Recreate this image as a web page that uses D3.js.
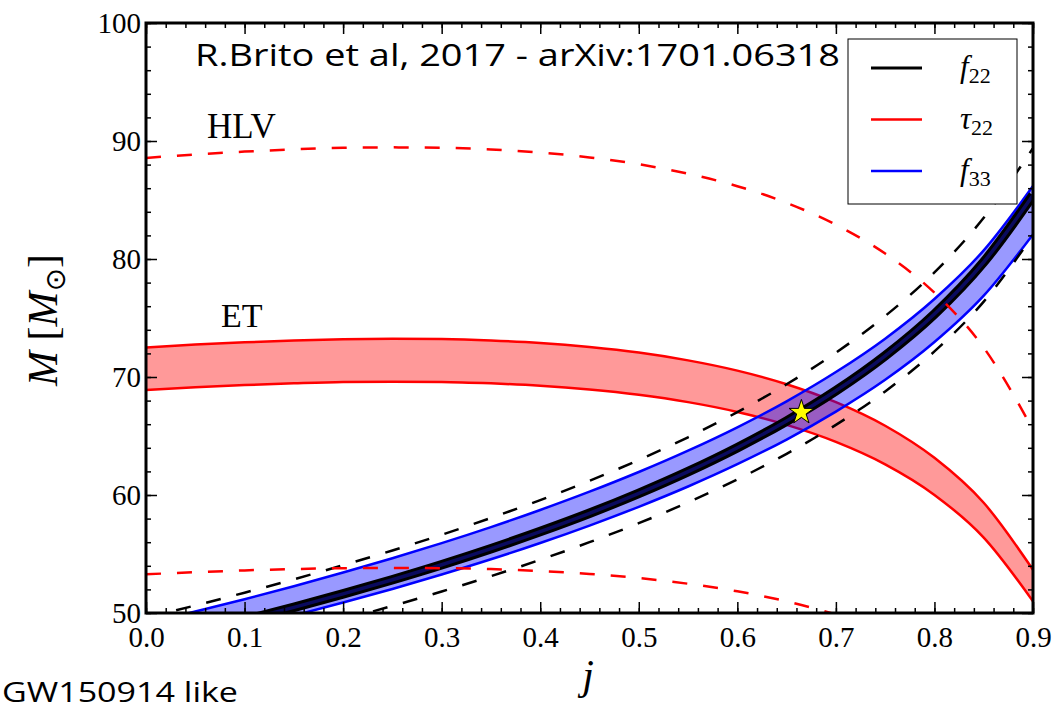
<!DOCTYPE html>
<html>
<head>
<meta charset="utf-8">
<script src="https://cdn.jsdelivr.net/npm/d3@7"></script>
<style>
  body { margin: 0; background: #fff; }
  svg { display: block; }
</style>
</head>
<body>
<svg id="chart" width="1054" height="711"></svg>
<script>

// ---- data ----
const xTicks = [ 0, 0.1, 0.2, 0.3, 0.4, 0.5, 0.6, 0.7, 0.8, 0.9 ];
const yTicks = [ 50, 60, 70, 80, 90, 100 ];
const jGrid = [ 0, 0.05, 0.1, 0.15, 0.2, 0.25, 0.3, 0.35, 0.4, 0.45, 0.5, 0.55, 0.6, 0.65, 0.7, 0.75, 0.8, 0.85, 0.9 ];

// tau_22, HLV (dashed red)
const tauHLVUpper = [ 88.56, 88.86, 89.10, 89.29, 89.42, 89.46, 89.43, 89.29, 89.02, 88.61, 88.03, 87.23, 86.17, 84.76, 82.90, 80.46, 77.14, 72.49, 65.54 ];
const tauHLVLower = [ 53.28, 53.46, 53.61, 53.72, 53.80, 53.82, 53.80, 53.72, 53.56, 53.31, 52.96, 52.48, 51.84, 50.99, 49.88 ];

// tau_22, ET (red band)
const tauETUpper = [ 72.50, 72.75, 72.94, 73.09, 73.20, 73.24, 73.21, 73.09, 72.88, 72.54, 72.07, 71.41, 70.54, 69.39, 67.87, 65.87, 63.15, 59.34, 53.66 ];
const tauETLower = [ 68.90, 69.13, 69.32, 69.46, 69.57, 69.60, 69.58, 69.46, 69.26, 68.94, 68.49, 67.87, 67.04, 65.94, 64.50, 62.60, 60.01, 56.39, 50.99 ];

// f_33, ET (blue band)
const f33Upper = [ 49.12, 50.12, 51.17, 52.27, 53.43, 54.64, 55.92, 57.28, 58.73, 60.28, 61.95, 63.76, 65.74, 67.94, 70.42, 73.25, 76.61, 80.73, 86.18 ];
const f33Lower = [ 46.78, 47.73, 48.73, 49.78, 50.89, 52.04, 53.26, 54.55, 55.93, 57.41, 59.00, 60.72, 62.61, 64.70, 67.07, 69.76, 72.96, 76.89, 82.08 ];

// f_22, ET (thick black), from j = 0.1
const f22ET = [ 49.40, 50.48, 51.62, 52.82, 54.09, 55.45, 56.90, 58.45, 60.14, 61.98, 64.01, 66.27, 68.83, 71.80, 75.33, 79.74, 85.40 ];

// f_22, HLV (dashed black)
const f22HLVUpper = [ 49.62, 50.64, 51.72, 52.85, 54.05, 55.30, 56.63, 58.06, 59.57, 61.20, 62.97, 64.89, 67.02, 69.39, 72.06, 75.17, 78.87, 83.49, 89.40 ];
const f22HLVLower = [ 49.45, 50.60, 51.82, 53.12, 54.51, 56.00, 57.61, 59.38, 61.32, 63.49, 65.94, 68.78, 72.17, 76.39, 82.00 ]; // from j = 0.2

const starPoint = [ 0.665, 67.0 ];

const legendNames = [ [ "f", "22" ], [ "τ", "22" ], [ "f", "33" ] ];
const legendColors = [ "#000000", "#ff0000", "#0000ff" ];

// ---- chart ----
const plotLeft = 146, plotRight = 1033, plotTop = 23, plotBottom = 613;

const svg = d3.select( "#chart" );

const x = d3.scaleLinear().domain( [ 0, 0.9 ] ).range( [ plotLeft, plotRight ] );
const y = d3.scaleLinear().domain( [ 50, 100 ] ).range( [ plotBottom, plotTop ] );

const pairs = ( js, ms ) => js.map( ( j, i ) => [ j, ms[ i ] ] );

const line = d3.line()
  .x( d => x( d[ 0 ] ) )
  .y( d => y( d[ 1 ] ) )
  .curve( d3.curveMonotoneX );

const band = d3.area()
  .x( d => x( d.j ) )
  .y0( d => y( d.lo ) )
  .y1( d => y( d.hi ) )
  .curve( d3.curveMonotoneX );

svg.append( "clipPath" ).attr( "id", "plotclip" )
  .append( "rect" )
    .attr( "x", plotLeft ).attr( "y", plotTop )
    .attr( "width", plotRight - plotLeft ).attr( "height", plotBottom - plotTop );

const plot = svg.append( "g" ).attr( "clip-path", "url(#plotclip)" );

// ET tau band
plot.append( "path" )
  .datum( jGrid.map( ( j, i ) => ( { j: j, lo: tauETLower[ i ], hi: tauETUpper[ i ] } ) ) )
  .attr( "d", band )
  .attr( "fill", "#ff0000" )
  .attr( "fill-opacity", 0.4 );

[ tauETUpper, tauETLower ].forEach( s => {
  plot.append( "path" )
    .datum( pairs( jGrid, s ) )
    .attr( "d", line )
    .attr( "fill", "none" )
    .attr( "stroke", "#ff0000" )
    .attr( "stroke-width", 2.5 );
} );

// f33 band
plot.append( "path" )
  .datum( jGrid.map( ( j, i ) => ( { j: j, lo: f33Lower[ i ], hi: f33Upper[ i ] } ) ) )
  .attr( "d", band )
  .attr( "fill", "#0000ff" )
  .attr( "fill-opacity", 0.4 );

[ f33Upper, f33Lower ].forEach( s => {
  plot.append( "path" )
    .datum( pairs( jGrid, s ) )
    .attr( "d", line )
    .attr( "fill", "none" )
    .attr( "stroke", "#0000ff" )
    .attr( "stroke-width", 2.5 );
} );

// f22 ET (thick black with dark inner)
const f22Data = pairs( jGrid.slice( 2 ), f22ET );
plot.append( "path" )
  .datum( f22Data )
  .attr( "d", line )
  .attr( "fill", "none" )
  .attr( "stroke", "#000000" )
  .attr( "stroke-width", 9.5 );
plot.append( "path" )
  .datum( f22Data )
  .attr( "d", line )
  .attr( "fill", "none" )
  .attr( "stroke", "#0a0a5e" )
  .attr( "stroke-width", 3.5 );

// f22 HLV dashed black
[ pairs( jGrid, f22HLVUpper ), pairs( jGrid.slice( 4 ), f22HLVLower ) ].forEach( s => {
  plot.append( "path" )
    .datum( s )
    .attr( "d", line )
    .attr( "fill", "none" )
    .attr( "stroke", "#000000" )
    .attr( "stroke-width", 2.5 )
    .attr( "stroke-dasharray", "15,16" );
} );

// tau HLV dashed red
[ pairs( jGrid, tauHLVUpper ), pairs( jGrid.slice( 0, tauHLVLower.length ), tauHLVLower ) ].forEach( s => {
  plot.append( "path" )
    .datum( s )
    .attr( "d", line )
    .attr( "fill", "none" )
    .attr( "stroke", "#ff0000" )
    .attr( "stroke-width", 2.5 )
    .attr( "stroke-dasharray", "15,16" );
} );

// star
svg.append( "path" )
  .attr( "d", d3.symbol( d3.symbolStar, 190 )() )
  .attr( "transform", "translate(" + x( starPoint[ 0 ] ) + "," + y( starPoint[ 1 ] ) + ")" )
  .attr( "fill", "#ffff00" )
  .attr( "stroke", "#000000" )
  .attr( "stroke-width", 1 );

// ---- axes ----
const minorX = d3.range( 0, 46 ).map( i => i * 0.02 );
const minorY = d3.range( 0, 26 ).map( i => 50 + i * 2 );

function styleAxis( g ) {
  g.select( ".domain" ).remove();
  g.selectAll( ".tick line" ).attr( "stroke", "#000" ).attr( "stroke-width", 1.5 );
  g.selectAll( ".tick text" ).attr( "fill", "#000" );
  g.attr( "font-family", "'Liberation Serif', 'DejaVu Serif', serif" ).attr( "font-size", 29 );
}

svg.append( "g" ).attr( "transform", "translate(0," + plotBottom + ")" )
  .call( d3.axisBottom( x ).tickValues( minorX ).tickSize( -5 ).tickFormat( "" ) ).call( styleAxis );
svg.append( "g" ).attr( "transform", "translate(0," + plotBottom + ")" )
  .call( d3.axisBottom( x ).tickValues( xTicks ).tickSize( -11 ).tickPadding( 13 ).tickFormat( d3.format( ".1f" ) ) ).call( styleAxis );
svg.append( "g" ).attr( "transform", "translate(0," + plotTop + ")" )
  .call( d3.axisTop( x ).tickValues( minorX ).tickSize( -5 ).tickFormat( "" ) ).call( styleAxis );
svg.append( "g" ).attr( "transform", "translate(0," + plotTop + ")" )
  .call( d3.axisTop( x ).tickValues( xTicks ).tickSize( -11 ).tickFormat( "" ) ).call( styleAxis );

svg.append( "g" ).attr( "transform", "translate(" + plotLeft + ",0)" )
  .call( d3.axisLeft( y ).tickValues( minorY ).tickSize( -5 ).tickFormat( "" ) ).call( styleAxis );
svg.append( "g" ).attr( "transform", "translate(" + plotLeft + ",0)" )
  .call( d3.axisLeft( y ).tickValues( yTicks ).tickSize( -11 ).tickPadding( 5 ).tickFormat( d3.format( "d" ) ) ).call( styleAxis );
svg.append( "g" ).attr( "transform", "translate(" + plotRight + ",0)" )
  .call( d3.axisRight( y ).tickValues( minorY ).tickSize( -5 ).tickFormat( "" ) ).call( styleAxis );
svg.append( "g" ).attr( "transform", "translate(" + plotRight + ",0)" )
  .call( d3.axisRight( y ).tickValues( yTicks ).tickSize( -11 ).tickFormat( "" ) ).call( styleAxis );

// frame
svg.append( "rect" )
  .attr( "x", plotLeft ).attr( "y", plotTop )
  .attr( "width", plotRight - plotLeft ).attr( "height", plotBottom - plotTop )
  .attr( "fill", "none" )
  .attr( "stroke", "#000" )
  .attr( "stroke-width", 3 );

// ---- legend ----
const legend = svg.append( "g" );
legend.append( "rect" )
  .attr( "x", 848 ).attr( "y", 39 )
  .attr( "width", 169 ).attr( "height", 165 )
  .attr( "fill", "#fff" )
  .attr( "stroke", "#000" )
  .attr( "stroke-width", 1 );

legendNames.forEach( ( n, i ) => {
  const ly = 68 + i * 51.5;
  legend.append( "line" )
    .attr( "x1", 871 ).attr( "x2", 922 )
    .attr( "y1", ly ).attr( "y2", ly )
    .attr( "stroke", legendColors[ i ] )
    .attr( "stroke-width", i === 0 ? 3 : 2.5 );
  const t = legend.append( "text" )
    .attr( "x", 960 ).attr( "y", ly + 9 )
    .attr( "font-family", "'Liberation Serif', 'DejaVu Serif', serif" )
    .attr( "font-size", 31 );
  t.append( "tspan" ).attr( "font-style", "italic" ).text( n[ 0 ] );
  t.append( "tspan" ).attr( "font-size", 22 ).attr( "dy", 6 ).text( n[ 1 ] );
} );

// ---- labels ----
svg.append( "text" )
  .attr( "x", 195 ).attr( "y", 66 )
  .attr( "font-family", "'Open Sans', 'Noto Sans', sans-serif" )
  .attr( "font-size", 31 )
  .attr( "textLength", 645 )
  .attr( "lengthAdjust", "spacingAndGlyphs" )
  .text( "R.Brito et al, 2017 - arXiv:1701.06318" );

svg.append( "text" )
  .attr( "x", 2 ).attr( "y", 702 )
  .attr( "font-family", "'Open Sans', 'Noto Sans', sans-serif" )
  .attr( "font-size", 28 )
  .attr( "textLength", 236 )
  .attr( "lengthAdjust", "spacingAndGlyphs" )
  .text( "GW150914 like" );

svg.append( "text" )
  .attr( "x", 207 ).attr( "y", 138 )
  .attr( "font-family", "'Liberation Serif', 'DejaVu Serif', serif" )
  .attr( "font-size", 35 )
  .text( "HLV" );

svg.append( "text" )
  .attr( "x", 221 ).attr( "y", 327 )
  .attr( "font-family", "'Liberation Serif', 'DejaVu Serif', serif" )
  .attr( "font-size", 34 )
  .text( "ET" );

// x label
svg.append( "text" )
  .attr( "x", 588 ).attr( "y", 689 )
  .attr( "text-anchor", "middle" )
  .attr( "font-family", "'Liberation Serif', 'DejaVu Serif', serif" )
  .attr( "font-style", "italic" )
  .attr( "font-size", 42 )
  .text( "j" );

// y label
const yl = svg.append( "text" )
  .attr( "transform", "translate(57,320) rotate(-90)" )
  .attr( "text-anchor", "middle" )
  .attr( "font-family", "'Liberation Serif', 'DejaVu Serif', serif" )
  .attr( "font-size", 42 );
yl.append( "tspan" ).attr( "font-style", "italic" ).text( "M" );
yl.append( "tspan" ).text( " [" );
yl.append( "tspan" ).attr( "font-style", "italic" ).text( "M" );
yl.append( "tspan" ).attr( "font-size", 28 ).attr( "dy", 8 ).attr( "font-family", "'DejaVu Sans', sans-serif" ).text( "⊙" );
yl.append( "tspan" ).attr( "dy", -8 ).text( "]" );

</script>
</body>
</html>
